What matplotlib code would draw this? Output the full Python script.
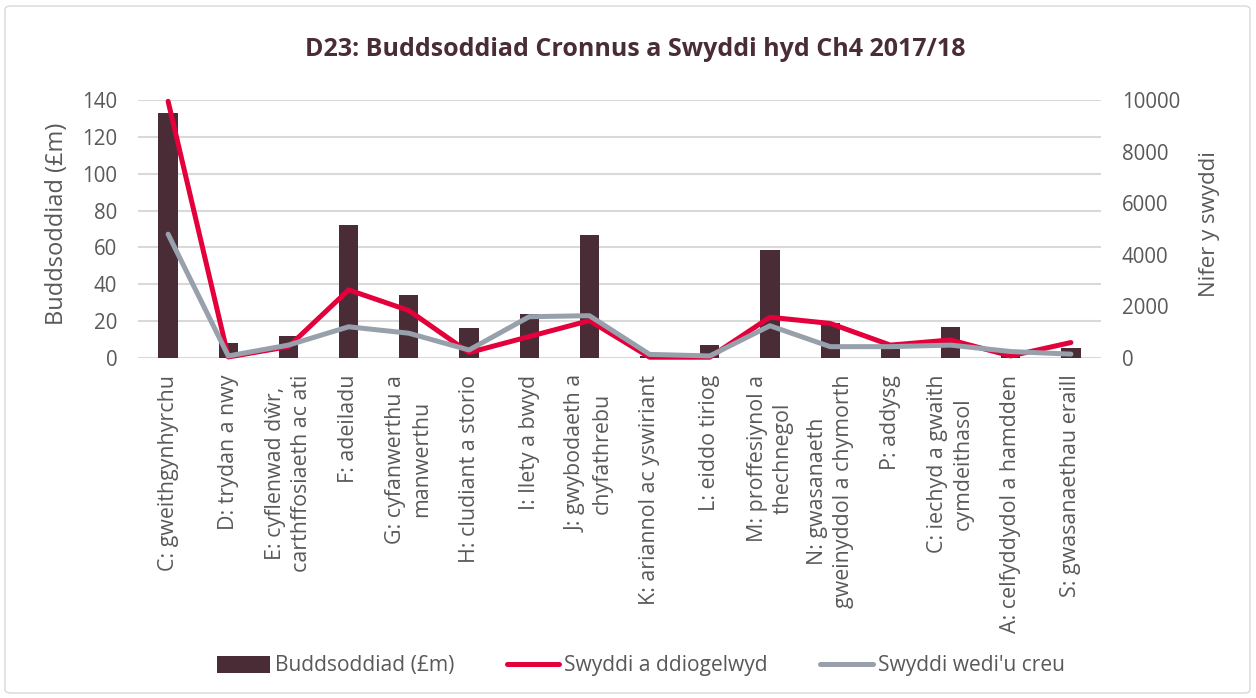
import matplotlib
matplotlib.use("Agg")
import matplotlib.pyplot as plt
import numpy as np
from matplotlib.patches import FancyBboxPatch
from matplotlib.lines import Line2D
from matplotlib.patches import Patch

plt.rcParams['font.family'] = ['Open Sans', 'DejaVu Sans']

categories = [
    "C: gweithgynhyrchu",
    "D: trydan a nwy",
    "E: cyflenwad dŵr,\ncarthffosiaeth ac ati",
    "F: adeiladu",
    "G: cyfanwerthu a\nmanwerthu",
    "H: cludiant a storio",
    "I: llety a bwyd",
    "J: gwybodaeth a\nchyfathrebu",
    "K: ariannol ac yswiriant",
    "L: eiddo tiriog",
    "M: proffesiynol a\nthechnegol",
    "N: gwasanaeth\ngweinyddol a chymorth",
    "P: addysg",
    "C: iechyd a gwaith\ncymdeithasol",
    "A: celfyddydol a hamdden",
    "S: gwasanaethau eraill",
]
investment = [133, 8, 12, 72, 34, 16.5, 24, 66.5, 1, 7, 58.5, 19, 5, 17, 1, 5.5]
jobs_safeguarded = [9950, 40, 440, 2640, 1840, 210, 830, 1450, 30, 30, 1580, 1340, 500, 700, 80, 600]
jobs_created = [4800, 80, 500, 1210, 960, 310, 1600, 1640, 140, 80, 1250, 440, 440, 500, 250, 150]

left_ticks = [0, 20, 40, 60, 80, 100, 120, 140]
right_ticks = [0, 2000, 4000, 6000, 8000, 10000]

bar_color = '#4a2c37'
red = '#e4003b'
grey = '#97a0ab'
text_grey = '#595959'

W, H = 1256, 698
fig = plt.figure(figsize=(W/100, H/100), dpi=100)

border = FancyBboxPatch((5/W, 5/H), 1245/W, 687/H, boxstyle="round,pad=0,rounding_size=0.005",
                        transform=fig.transFigure, facecolor='none', edgecolor='#d9d9d9', lw=1.0, zorder=-1)
fig.patches.append(border)

ax_l, ax_r = 138, 1101
ax = fig.add_axes([ax_l/W, (H-358)/H, (ax_r-ax_l)/W, 258/H])
ax.set_facecolor('none')
x = np.arange(len(categories))
ax.bar(x, investment, width=0.32, color=bar_color, zorder=2)
ax.set_ylim(0, 140)
ax.set_xlim(-0.5, len(categories)-0.5)
ax.set_yticks(left_ticks)
ax.yaxis.grid(True, color='#d9d9d9', lw=1.5, zorder=0)
ax.set_axisbelow(True)
for s in ax.spines.values():
    s.set_visible(False)
ax.tick_params(axis='both', length=0, colors=text_grey, labelsize=14.8)
ax.tick_params(axis='y', pad=15)
ax.set_xticks(x)
ax.set_xticklabels(categories, rotation=90, ha='center', va='top', multialignment='center',
                   fontsize=15.4, color=text_grey, linespacing=1.3)
ax.tick_params(axis='x', pad=12)
ax.set_ylabel("Buddsoddiad (£m)", fontsize=17, color=text_grey, va='center')
ax.yaxis.set_label_coords((57-ax_l)/(ax_r-ax_l), 0.52)

ax2 = ax.twinx()
ax2.plot(x, jobs_safeguarded, color=red, lw=3.6, solid_capstyle='round', zorder=3, clip_on=False)
ax2.plot(x, jobs_created, color=grey, lw=3.6, solid_capstyle='round', zorder=4, clip_on=False)
ax2.set_ylim(0, 10000)
ax2.set_yticks(right_ticks)
for s in ax2.spines.values():
    s.set_visible(False)
ax2.tick_params(axis='y', length=0, colors=text_grey, labelsize=14.8, pad=15)
ax2.set_ylabel("Nifer y swyddi", fontsize=16, color=text_grey, va='center')
ax2.yaxis.set_label_coords((1209-ax_l)/(ax_r-ax_l), 0.52)

fig.text(635/W, 1-50/H, "D23: Buddsoddiad Cronnus a Swyddi hyd Ch4 2017/18", ha='center', va='center',
         fontsize=18, fontweight='bold', color=bar_color)

handles = [Patch(facecolor=bar_color, edgecolor='none'),
           Line2D([0], [0], color=red, lw=3.6, solid_capstyle='round'),
           Line2D([0], [0], color=grey, lw=3.6, solid_capstyle='round')]
labels = ["Buddsoddiad (£m)", "Swyddi a ddiogelwyd", "Swyddi wedi'u creu"]
fig.legend(handles, labels, loc='center', bbox_to_anchor=(641/W, 1-666/H), ncol=3, frameon=False,
           fontsize=15.1, labelcolor=text_grey, handlelength=2.5, handletextpad=0.25, columnspacing=2.5,
           handleheight=0.9)

fig.savefig("out.png", dpi=100)
